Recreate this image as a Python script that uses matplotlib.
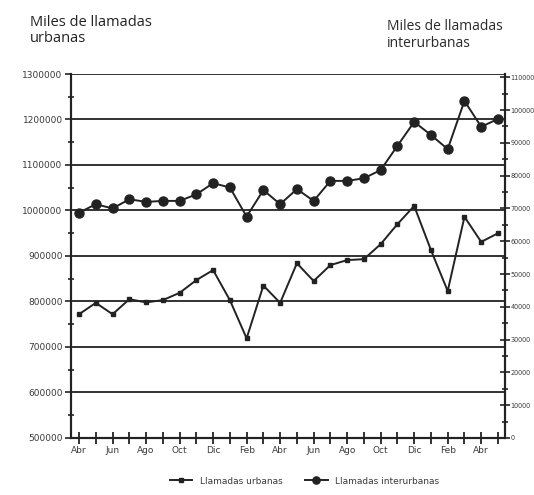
import matplotlib
matplotlib.use("Agg")
import matplotlib.pyplot as plt
from matplotlib.ticker import MultipleLocator

months = ["Abr", "May", "Jun", "Jul", "Ago", "Sep", "Oct", "Nov", "Dic", "Ene", "Feb", "Mar",
          "Abr", "May", "Jun", "Jul", "Ago", "Sep", "Oct", "Nov", "Dic", "Ene", "Feb", "Mar",
          "Abr", "May"]
urbanas = [772000, 797000, 772000, 805000, 798000, 803000, 819000, 847000, 869000, 803000,
           719000, 835000, 797000, 884000, 845000, 880000, 891000, 893000, 926000, 970000,
           1010000, 913000, 823000, 986000, 931000, 950000]
interurbanas = [68700, 71300, 70000, 72800, 72000, 72300, 72300, 74300, 77700, 76400,
                67500, 75600, 71300, 75900, 72300, 78400, 78400, 79200, 81700, 89100,
                96400, 92400, 88100, 102800, 94900, 97300]

ink = "#222222"
txt = "#3a3a3a"

fig = plt.figure(figsize=(5.34, 4.95), dpi=100)
ax = fig.add_axes([0.133, 0.1152, 0.8127, 0.7353])
ax2 = ax.twinx()

x = list(range(len(months)))
ax.plot(x, urbanas, color=ink, lw=1.4, marker="s", ms=3.0, label="Llamadas urbanas", zorder=3)
ax2.plot(x, interurbanas, color=ink, lw=1.4, marker="o", ms=6.5, label="Llamadas interurbanas", zorder=3)

ax.set_xlim(-0.48, 25.42)
ax.set_ylim(500000, 1300000)
ax2.set_ylim(0, 111000)

for a in (ax, ax2):
    a.spines["top"].set_visible(False)
    for s in a.spines.values():
        s.set_color(ink)
        s.set_linewidth(1.5)

ax.set_yticks(range(500000, 1300001, 100000))
ax.set_yticklabels([str(v) for v in range(500000, 1300001, 100000)], fontsize=6.5, color=txt)
ax.yaxis.set_minor_locator(MultipleLocator(50000))
ax.tick_params(axis="y", which="major", direction="out", length=4, width=1.2, color=ink, pad=2)
ax.tick_params(axis="y", which="minor", direction="inout", length=5, width=1.2, color=ink)
ax.grid(axis="y", which="major", color=ink, lw=1.3)

ax2.set_yticks(range(0, 110001, 10000))
ax2.set_yticklabels([str(v) for v in range(0, 110001, 10000)], fontsize=4.7, color=txt,
                    family="Liberation Sans Narrow")
ax2.yaxis.set_minor_locator(MultipleLocator(5000))
ax2.tick_params(axis="y", which="major", direction="inout", length=7, width=1.2, color=ink, pad=0.5)
ax2.tick_params(axis="y", which="minor", direction="inout", length=4, width=1.2, color=ink)

ax.set_xticks(x)
ax.set_xticklabels([m if i % 2 == 0 else "" for i, m in enumerate(months)], fontsize=6.5, color=txt)
ax.tick_params(axis="x", direction="inout", length=9, width=1.3, color=ink, pad=1)

fig.text(0.056, 0.97, "Miles de llamadas\nurbanas", ha="left", va="top", fontsize=10.5,
         color="#222222", family="Open Sans", fontweight="medium", linespacing=1.15)
fig.text(0.725, 0.962, "Miles de llamadas\ninterurbanas", ha="left", va="top", fontsize=10,
         color="#2a2a2a", family="Open Sans", linespacing=1.2)

h1, l1 = ax.get_legend_handles_labels()
h2, l2 = ax2.get_legend_handles_labels()
fig.legend(h1 + h2, l1 + l2, loc="center", bbox_to_anchor=(0.57, 0.028), ncol=2, frameon=False,
           fontsize=6.5, labelcolor=txt, handlelength=2.5, columnspacing=2.5, markerscale=0.8)

fig.savefig("out.png", dpi=100)
